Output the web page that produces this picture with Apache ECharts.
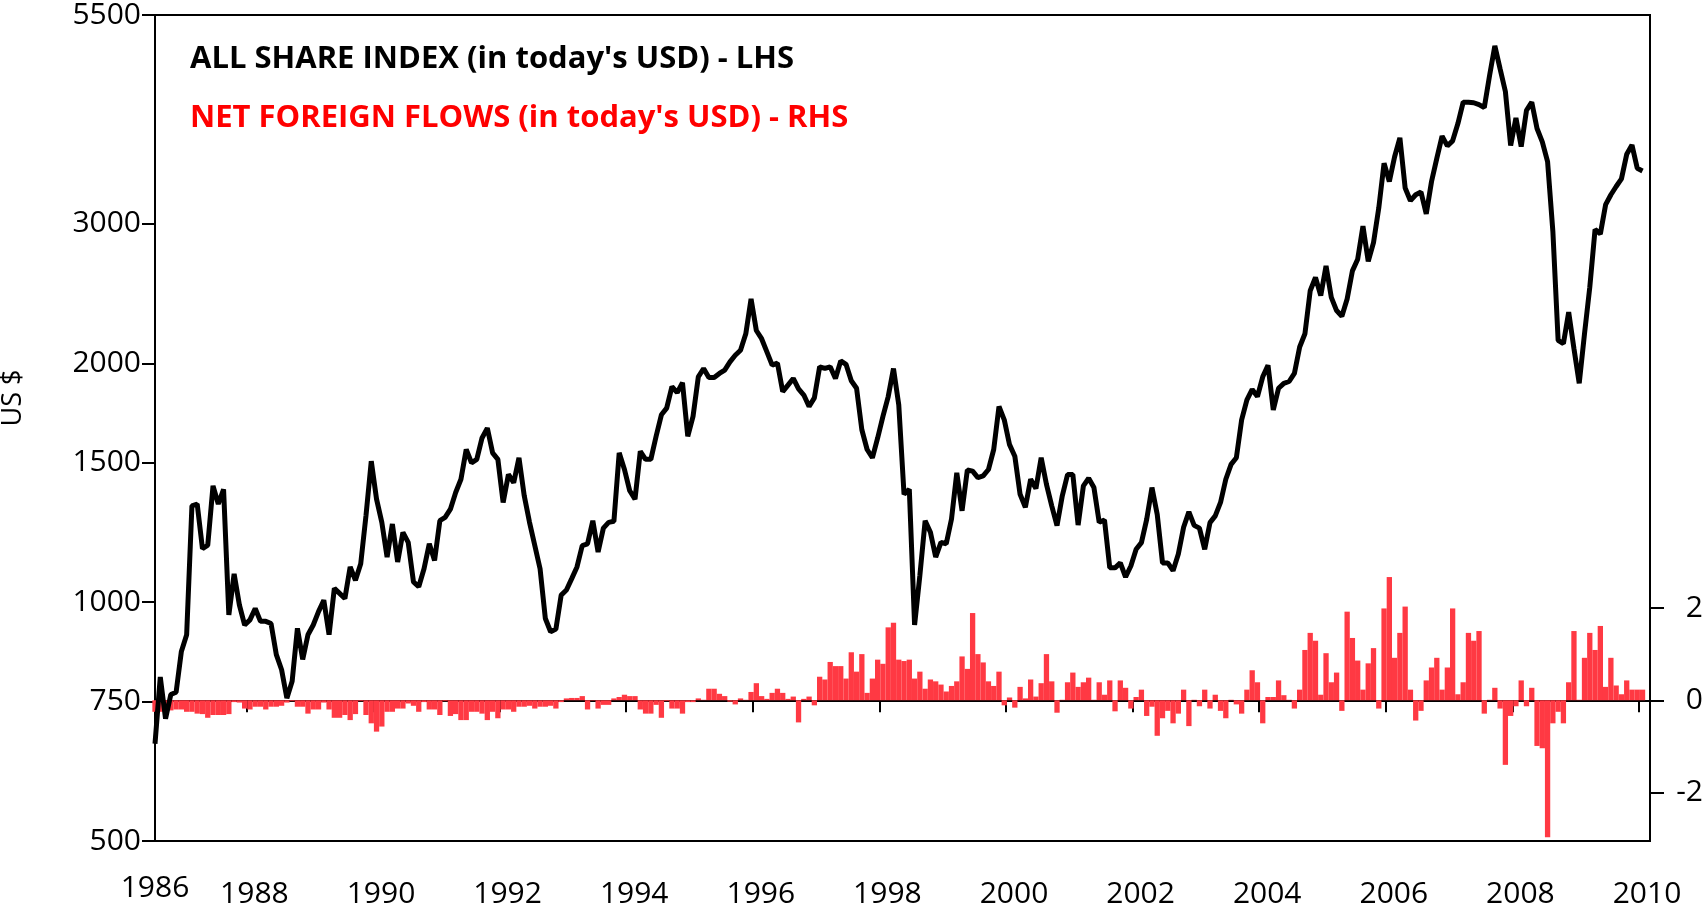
<!DOCTYPE html>
<html lang="en">
<head>
<meta charset="UTF-8">
<title>All Share Index vs net foreign flows</title>
<script src="https://cdn.jsdelivr.net/npm/echarts@6/dist/echarts.min.js"></script>
<style>
    html, body { margin: 0; padding: 0; background: #fff; }
    #chart { width: 1708px; height: 910px; }
</style>
</head>
<body>
<div id="chart"></div>
<script type="text/javascript">
    // monthly observations, the first one is Jul 1986 (decimal years on the x axis)
    var firstMonth = 1986.556;
    var axisEnd = 2010.174;

    // All Share Index in today's USD (left, log scale)
    var shareIndex = [
        663, 805, 713, 765, 770, 867, 910, 1323, 1330, 1168, 1180, 1402, 1330, 1388, 964, 1086, 992, 936, 950, 982,
        946, 946, 940, 859, 822, 757, 795, 927, 847, 910, 936, 973, 1006, 910, 1041, 1026, 1011, 1108, 1066, 1118,
        1286, 1506, 1349, 1261, 1140, 1255, 1124, 1225, 1190, 1061, 1046, 1102, 1185, 1129, 1267, 1279, 1310, 1375, 1429, 1558,
        1499, 1514, 1611, 1658, 1543, 1514, 1336, 1449, 1415, 1521, 1362, 1261, 1179, 1102, 954, 918, 925, 1021, 1036, 1071,
        1108, 1179, 1185, 1267, 1157, 1240, 1261, 1265, 1543, 1470, 1382, 1349, 1550, 1514, 1514, 1619, 1723, 1757, 1870, 1838,
        1891, 1619, 1715, 1924, 1971, 1920, 1920, 1943, 1962, 2009, 2048, 2078, 2180, 2412, 2201, 2149, 2068, 1990, 2002, 1843,
        1878, 1915, 1858, 1825, 1765, 1810, 1981, 1971, 1981, 1915, 2015, 1995, 1902, 1861, 1650, 1558, 1521, 1611, 1715, 1817,
        1971, 1773, 1368, 1388, 936, 1081, 1267, 1225, 1140, 1190, 1185, 1273, 1456, 1304, 1468, 1463, 1436, 1443, 1470, 1558,
        1765, 1698, 1580, 1528, 1368, 1317, 1429, 1391, 1521, 1408, 1323, 1249, 1362, 1449, 1449, 1251, 1402, 1433, 1395, 1261,
        1270, 1105, 1105, 1121, 1076, 1111, 1166, 1189, 1272, 1395, 1290, 1121, 1121, 1096, 1150, 1243, 1300, 1250, 1240, 1166,
        1260, 1285, 1336, 1429, 1492, 1521, 1698, 1799, 1855, 1817, 1924, 1990, 1748, 1861, 1888, 1898, 1943, 2098, 2180, 2470,
        2567, 2435, 2655, 2423, 2332, 2294, 2412, 2617, 2707, 2979, 2690, 2840, 3141, 3576, 3392, 3645, 3850, 3328, 3208, 3264,
        3290, 3087, 3392, 3628, 3869, 3762, 3817, 4013, 4270, 4268, 4263, 4240, 4203, 4613, 5029, 4703, 4405, 3765, 4078, 3753,
        4170, 4270, 3956, 3806, 3593, 2936, 2139, 2119, 2321, 2088, 1888, 2180, 2495, 2951, 2913, 3171, 3264, 3343, 3418, 3670,
        3770, 3525, 3498
    ];

    // net foreign flows in today's USD (right axis)
    var netFlows = [
        -0.25, -0.25, -0.25, -0.22, -0.2, -0.2, -0.25, -0.25, -0.29, -0.3, -0.38, -0.32, -0.32, -0.32, -0.3, -0.04, -0.05, -0.18, -0.2, -0.14,
        -0.14, -0.2, -0.14, -0.14, -0.12, -0.05, -0.02, -0.14, -0.14, -0.29, -0.2, -0.2, -0.05, -0.2, -0.38, -0.38, -0.32, -0.43, -0.3, -0.02,
        -0.32, -0.5, -0.68, -0.57, -0.25, -0.25, -0.18, -0.18, -0.07, -0.12, -0.25, -0.04, -0.2, -0.2, -0.32, -0.02, -0.34, -0.3, -0.43, -0.43,
        -0.25, -0.25, -0.29, -0.43, -0.25, -0.39, -0.2, -0.2, -0.25, -0.14, -0.14, -0.12, -0.18, -0.14, -0.14, -0.12, -0.18, -0.04, 0.04, 0.05,
        0.05, 0.09, -0.2, -0.01, -0.18, -0.1, -0.1, 0.04, 0.07, 0.12, 0.09, 0.09, -0.2, -0.29, -0.29, -0.1, -0.38, -0.02, -0.18, -0.18,
        -0.29, -0.04, -0.04, 0.04, 0.01, 0.25, 0.25, 0.14, 0.09, -0.03, -0.09, 0.04, 0.01, 0.18, 0.37, 0.09, 0.03, 0.16, 0.25, 0.16,
        0.03, 0.08, -0.48, 0.03, 0.08, -0.11, 0.51, 0.45, 0.83, 0.74, 0.74, 0.47, 1.04, 0.62, 1.0, 0.16, 0.47, 0.88, 0.79, 1.58,
        1.68, 0.88, 0.85, 0.88, 0.47, 0.62, 0.25, 0.45, 0.41, 0.34, 0.19, 0.31, 0.41, 0.95, 0.68, 1.89, 1.0, 0.82, 0.41, 0.31,
        0.62, -0.11, 0.06, -0.16, 0.29, 0.04, 0.45, 0.08, 0.37, 1.0, 0.41, -0.27, 0.01, 0.39, 0.6, 0.29, 0.39, 0.49, 0.01, 0.39,
        0.12, 0.43, -0.24, 0.43, 0.27, -0.18, 0.07, 0.23, -0.34, -0.14, -0.77, -0.39, -0.23, -0.5, -0.29, 0.23, -0.56, 0.01, -0.13, 0.23,
        -0.18, 0.12, -0.23, -0.39, 0.01, -0.09, -0.29, 0.23, 0.65, 0.39, -0.5, 0.07, 0.07, 0.43, 0.11, 0.01, -0.18, 0.23, 1.09, 1.46,
        1.29, 0.12, 1.02, 0.39, 0.6, -0.23, 1.92, 1.35, 0.86, 0.23, 0.8, 1.13, -0.18, 1.99, 2.67, 0.92, 1.46, 2.03, 0.23, -0.44,
        -0.23, 0.43, 0.71, 0.92, 0.23, 0.71, 1.99, 0.13, 0.39, 1.46, 1.29, 1.5, -0.29, 0.01, 0.27, -0.18, -1.4, -0.34, -0.13, 0.43,
        -0.13, 0.27, -0.99, -1.04, -2.97, -0.5, -0.25, -0.5, 0.39, 1.5, 0.01, 0.92, 1.46, 1.09, 1.61, 0.29, 0.92, 0.32, 0.13, 0.43,
        0.23, 0.23, 0.23
    ];

    var yearTicks = [1988, 1990, 1992, 1994, 1996, 1998, 2000, 2002, 2004, 2006, 2008, 2010];
    var leftTicks = [500, 750, 1000, 1500, 2000, 3000, 5500];
    var rightTicks = [-2, 0, 2];

    var font = 'Open Sans';
    var black = '#000';

    function monthPairs(values) {
        return values.map(function (v, i) {
            return [firstMonth + i / 12, v];
        });
    }

    // plain numbers, no thousands separator
    function plain(v) {
        return String(Math.round(v));
    }

    var myChart = echarts.init(document.getElementById('chart'));

    var option = {
        animation: false,
        backgroundColor: '#fff',
        title: {
            text: "ALL SHARE INDEX (in today's USD) - LHS",
            subtext: "NET FOREIGN FLOWS (in today's USD) - RHS",
            left: 190,
            top: 41,
            padding: 0,
            itemGap: 23,
            textStyle: {fontFamily: font, fontSize: 31, fontWeight: 'bold', color: black, lineHeight: 36},
            subtextStyle: {fontFamily: font, fontSize: 31, fontWeight: 'bold', color: '#ff0000', lineHeight: 36}
        },
        graphic: [{
            type: 'text',
            x: 13,
            y: 398,
            rotation: Math.PI / 2,
            style: {
                text: 'US $',
                fontFamily: font,
                fontSize: 27,
                fill: black,
                textAlign: 'center',
                textVerticalAlign: 'middle'
            }
        }],
        grid: {
            left: 155,
            right: 58,
            top: 9,
            bottom: 69,
            show: true,
            borderColor: black,
            borderWidth: 2
        },
        xAxis: [{
            type: 'value',
            min: firstMonth,
            max: axisEnd,
            axisLine: {show: true, lineStyle: {color: black, width: 2}},
            axisTick: {show: true, customValues: [firstMonth].concat(yearTicks), length: 12, lineStyle: {color: black, width: 2}},
            axisLabel: {
                customValues: yearTicks,
                formatter: plain,
                margin: 38,
                padding: [0, 0, 0, 16],
                color: black,
                fontFamily: font,
                fontSize: 30
            },
            splitLine: {show: false}
        }, {
            // the first year sits at the left edge, a bit higher
            type: 'value',
            position: 'bottom',
            min: firstMonth,
            max: axisEnd,
            axisLine: {show: false},
            axisTick: {show: false},
            axisLabel: {
                customValues: [firstMonth],
                formatter: function () { return '1986'; },
                margin: 32,
                color: black,
                fontFamily: font,
                fontSize: 30
            },
            splitLine: {show: false}
        }],
        yAxis: [{
            type: 'log',
            logBase: 10,
            min: 500,
            max: 5500,
            axisLine: {show: true, lineStyle: {color: black, width: 2}},
            axisTick: {show: true, customValues: leftTicks, length: 13, lineStyle: {color: black, width: 2}},
            axisLabel: {customValues: leftTicks, formatter: plain, margin: 14, color: black, fontFamily: font, fontSize: 30},
            splitLine: {show: false}
        }, {
            type: 'value',
            position: 'right',
            min: -3.05,
            max: 14.85,
            axisLine: {show: true, lineStyle: {color: black, width: 2}},
            axisTick: {show: true, customValues: rightTicks, length: 14, lineStyle: {color: black, width: 2}},
            axisLabel: {customValues: rightTicks, formatter: plain, align: 'right', margin: 53, color: black, fontFamily: font, fontSize: 30},
            splitLine: {show: false}
        }],
        series: [{
            name: 'NET FOREIGN FLOWS',
            type: 'bar',
            xAxisIndex: 0,
            yAxisIndex: 1,
            barWidth: 5.3,
            itemStyle: {color: '#ff3943'},
            data: monthPairs(netFlows)
        }, {
            name: 'ALL SHARE INDEX',
            type: 'line',
            xAxisIndex: 0,
            yAxisIndex: 0,
            showSymbol: false,
            z: 5,
            lineStyle: {color: black, width: 5},
            data: monthPairs(shareIndex)
        }]
    };

    myChart.setOption(option);
</script>
</body>
</html>
